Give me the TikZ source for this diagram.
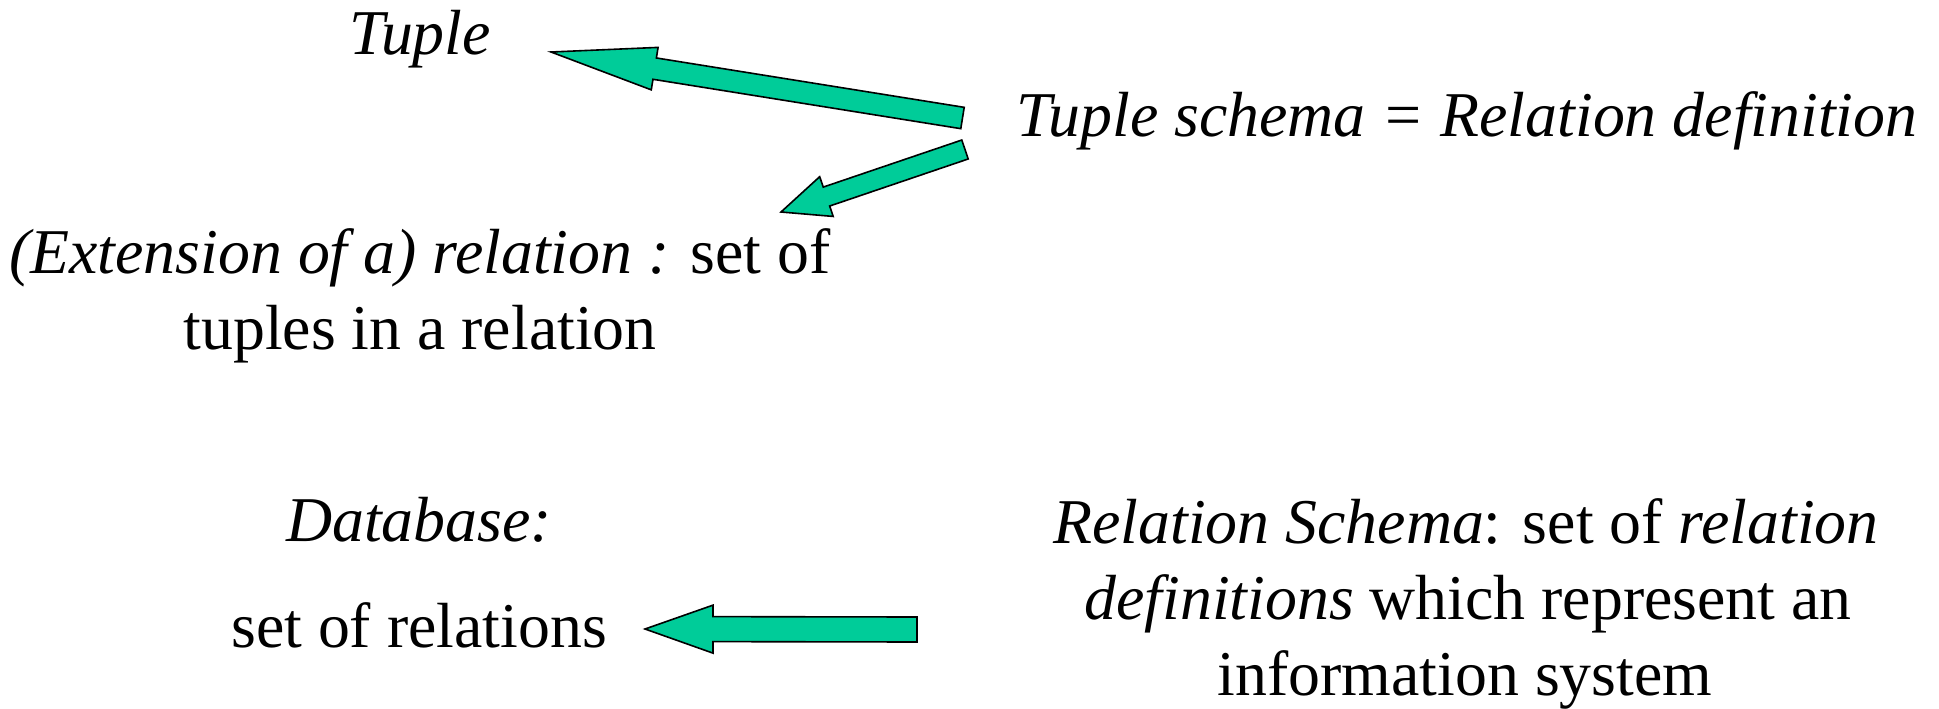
\documentclass[tikz,border=0pt]{standalone}
\usepackage{fontspec}
\setmainfont{Liberation Serif}
\usetikzlibrary{calc}
\definecolor{arrowgreen}{HTML}{00CC99}
\tikzset{
  textline/.style={anchor=base, inner sep=0pt, font=\fontsize{63.8}{76.5}\selectfont},
  fatarrow/.style={fill=arrowgreen, draw=black, line width=1.6pt, line join=miter},
}
% block arrow: #1 tail, #2 tip, #3 shaft half width, #4 head half width, #5 head length
\newcommand\fatarrowpath[5]{%
  \coordinate (hb) at ($(#2)!#5!(#1)$);
  \draw[fatarrow]
    ($(#1)!#3!90:(#2)$) -- ($(hb)!#3!-90:(#1)$) -- ($(hb)!#4!-90:(#1)$) -- (#2)
    -- ($(hb)!#4!90:(#1)$) -- ($(hb)!#3!90:(#1)$) -- ($(#1)!#3!-90:(#2)$) -- cycle;
}
\begin{document}
\begin{tikzpicture}[x=1pt, y=-1pt]
  \useasboundingbox (0,0) rectangle (1939,709);

  % texts
  \node[textline] (tuple)   at (420,55)  {\itshape Tuple};
  \node[textline] (tschema) at (1467,136) {\itshape Tuple schema = Relation definition};
  \node[textline] (ext1)    at (420,273) {{\itshape (Extension of a) relation :} set of};
  \node[textline] (ext2)    at (420,349) {tuples in a relation};
  \node[textline] (db)      at (419,541) {\itshape Database:};
  \node[textline] (setrel)  at (419,647) {set of relations};
  \node[textline] (rs1)     at (1466,543) {{\itshape Relation Schema}: set of {\itshape relation}};
  \node[textline] (rs2)     at (1468,619) {{\itshape definitions} which represent an};
  \node[textline] (rs3)     at (1465,695) {information system};

  % arrow end points
  \coordinate (a1tail) at (962.5,118);
  \coordinate (a1tip)  at (551,52);
  \coordinate (a2tail) at (965,149.5);
  \coordinate (a2tip)  at (781,212);
  \coordinate (a3tail) at (917,629.5);
  \coordinate (a3tip)  at (645,629);

  \fatarrowpath{a1tail}{a1tip}{10.8pt}{21.5pt}{105pt}
  \fatarrowpath{a2tail}{a2tip}{10pt}{21pt}{48pt}
  \fatarrowpath{a3tail}{a3tip}{12.5pt}{24pt}{68pt}
\end{tikzpicture}
\end{document}
